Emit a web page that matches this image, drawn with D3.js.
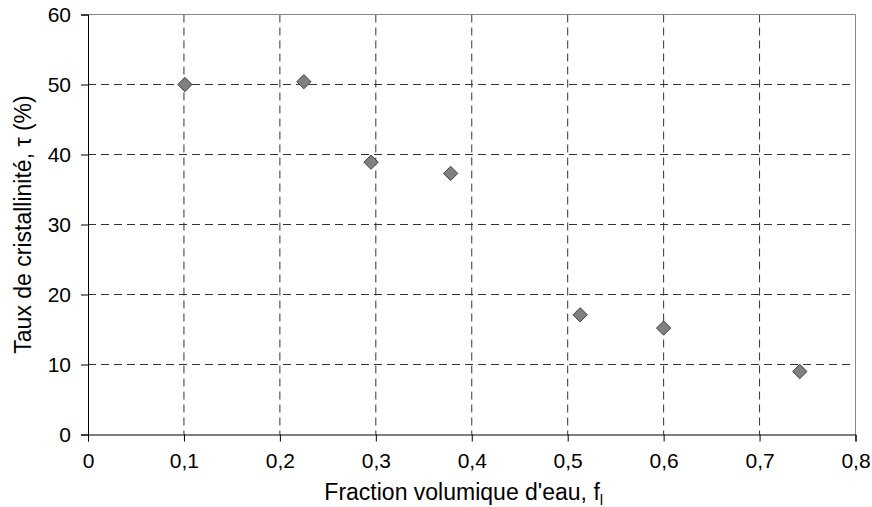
<!DOCTYPE html>
<html><head><meta charset="utf-8">
<script src="https://d3js.org/d3.v7.min.js"></script>
<style>body{margin:0;background:#fff}svg text{font-family:"Liberation Sans",Arial,sans-serif}</style>
</head><body>
<svg id="c" width="872" height="507"></svg>
<script>
const xValues = [0.101, 0.225, 0.295, 0.378, 0.513, 0.600, 0.742];
const yValues = [50.0, 50.4, 38.9, 37.3, 17.1, 15.2, 9.0];
const xTicks = [0, 0.1, 0.2, 0.3, 0.4, 0.5, 0.6, 0.7, 0.8];
const yTicks = [0, 10, 20, 30, 40, 50, 60];
const xTitle = "Fraction volumique d'eau, f";
const xTitleSub = "l";
const yTitle = "Taux de cristallinité, τ (%)";

const svg = d3.select("#c");
const L = 88, R = 855.5, T = 14.5, B = 434.5;
const FS = 21, TS = 23;
const x = d3.scaleLinear().domain([0, 0.8]).range([L, R]);
const y = d3.scaleLinear().domain([0, 60]).range([B, T]);
const fmt = d => d === 0 ? "0" : d3.format(".1f")(d).replace(".", ",");

// gridlines
svg.append("g").selectAll("line").data(yTicks.filter(d => d > 0 && d < 60)).join("line")
  .attr("x1", L).attr("x2", R).attr("y1", d => y(d)).attr("y2", d => y(d))
  .attr("stroke", "#333").attr("stroke-width", 1).attr("stroke-dasharray", "8,5");
svg.append("g").selectAll("line").data(xTicks.filter(d => d > 0 && d < 0.8)).join("line")
  .attr("x1", d => x(d)).attr("x2", d => x(d)).attr("y1", T).attr("y2", B)
  .attr("stroke", "#333").attr("stroke-width", 1).attr("stroke-dasharray", "8,5");

// plot border top/right
svg.append("path").attr("d", `M${L},${T}H${R}V${B}`).attr("fill", "none").attr("stroke", "#888").attr("stroke-width", 1);

// axes
const xa = svg.append("g").attr("transform", `translate(0,${B})`)
  .call(d3.axisBottom(x).tickValues(xTicks).tickFormat(fmt).tickSizeOuter(0).tickSize(7).tickPadding(12));
const ya = svg.append("g").attr("transform", `translate(${L},0)`)
  .call(d3.axisLeft(y).tickValues(yTicks).tickSizeOuter(0).tickSize(7).tickPadding(10));
[xa, ya].forEach(a => {
  a.select(".domain").attr("stroke", "#000");
  a.selectAll(".tick line").attr("stroke", "#000");
  a.selectAll("text").attr("font-size", FS).attr("fill", "#000");
});

// markers
const sym = d3.symbol().type(d3.symbolDiamond2).size(130);
svg.append("g").selectAll("path").data(xValues.map((v, i) => [v, yValues[i]])).join("path")
  .attr("d", sym)
  .attr("transform", d => `translate(${x(d[0])},${y(d[1])})`)
  .attr("fill", "#808080").attr("stroke", "#404040").attr("stroke-width", 1);

// titles
const xt = svg.append("text").attr("x", (L + R) / 2 - 8).attr("y", 500).attr("text-anchor", "middle").attr("font-size", TS);
xt.append("tspan").text(xTitle);
xt.append("tspan").attr("font-size", 15).attr("dy", 5).text(xTitleSub);
svg.append("text").attr("transform", `translate(31,${(T + B) / 2}) rotate(-90)`).attr("text-anchor", "middle").attr("font-size", TS).text(yTitle);
</script>
</body></html>
